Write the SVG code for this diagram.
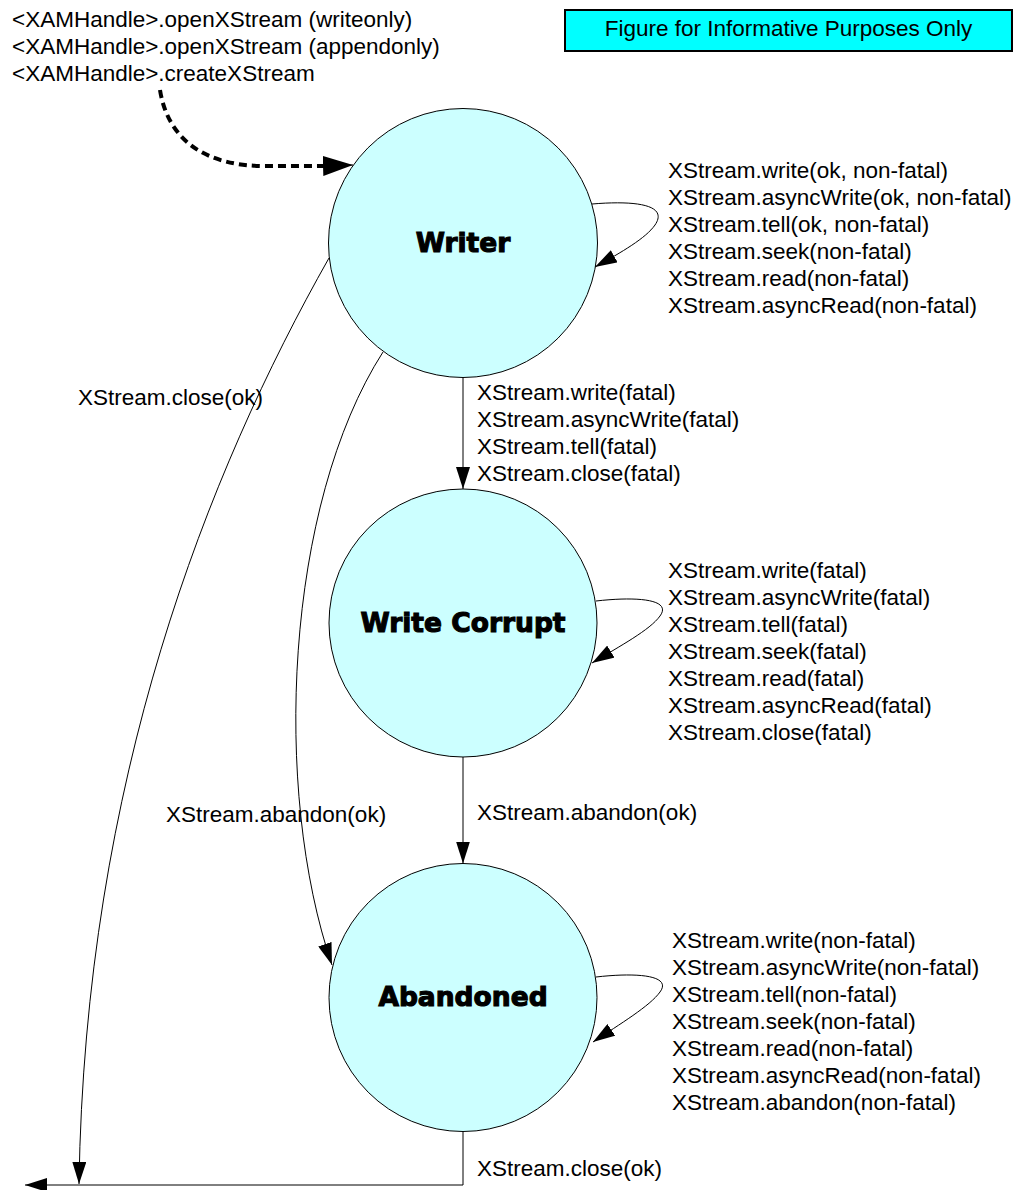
<svg xmlns="http://www.w3.org/2000/svg" width="1015" height="1190" viewBox="0 0 1015 1190">
  <style>
    .lbl { font-family: "Liberation Sans", Arial, sans-serif; font-size: 22.5px; fill: #000; }
    .node circle { fill: #CCFFFF; stroke: #000; stroke-width: 1; }
    .node text { font-family: "DejaVu Sans", "Liberation Sans", sans-serif; font-weight: bold; font-size: 26.5px; fill: #000; stroke: #000; stroke-width: 1.1; text-anchor: middle; }
    .edge { fill: none; stroke: #000; stroke-width: 1; }
    .dash { fill: none; stroke: #000; stroke-width: 4; stroke-dasharray: 8 5; }
  </style>
  <defs>
    <marker id="arr" markerUnits="userSpaceOnUse" markerWidth="22" markerHeight="14" refX="22" refY="7" orient="auto">
      <path d="M0,0 L22,7 L0,14 z" fill="#000"/>
    </marker>
    <marker id="arrBig" markerUnits="userSpaceOnUse" markerWidth="30" markerHeight="20" refX="30" refY="10" orient="auto">
      <path d="M0,0 L30,10 L0,20 z" fill="#000"/>
    </marker>
  </defs>

  <rect x="0" y="0" width="1015" height="1190" fill="#fff"/>

  <g id="notice">
    <rect x="565" y="10" width="447" height="41" fill="#00FFFF" stroke="#000" stroke-width="2"/>
    <text class="lbl" x="788.5" y="36" text-anchor="middle">Figure for Informative Purposes Only</text>
  </g>

  <g id="entry-label">
    <text class="lbl" x="12" y="27">&lt;XAMHandle&gt;.openXStream (writeonly)</text>
    <text class="lbl" x="12" y="54">&lt;XAMHandle&gt;.openXStream (appendonly)</text>
    <text class="lbl" x="12" y="81">&lt;XAMHandle&gt;.createXStream</text>
  </g>

  <g id="node-writer" class="node">
    <circle cx="463" cy="243" r="134.5"/>
    <text x="463" y="252">Writer</text>
  </g>
  <g id="node-write-corrupt" class="node">
    <circle cx="463" cy="623" r="134"/>
    <text x="463" y="632">Write Corrupt</text>
  </g>
  <g id="node-abandoned" class="node">
    <circle cx="463" cy="997.5" r="134"/>
    <text x="463" y="1006">Abandoned</text>
  </g>

  <g id="connectors">
    <path class="dash" d="M160,90 C168,140 205,166 265,166 L325,166" />
    <path class="edge" d="M323,166 L353,165" stroke="none" marker-end="url(#arrBig)"/>
    <!-- Writer self loop -->
    <path class="edge" d="M592,204 C640,200 668,206 655,225 C646,238 622,252 595,267" marker-end="url(#arr)"/>
    <!-- Write Corrupt self loop -->
    <path class="edge" d="M596,601 C640,596 672,600 660,616 C650,630 620,646 592,663" marker-end="url(#arr)"/>
    <!-- Abandoned self loop -->
    <path class="edge" d="M596,977 C640,972 672,976 660,992 C650,1006 620,1024 593,1042" marker-end="url(#arr)"/>
    <!-- Writer -> Write Corrupt -->
    <path class="edge" d="M463,377.5 L463,489" marker-end="url(#arr)"/>
    <!-- Write Corrupt -> Abandoned -->
    <path class="edge" d="M463,757 L463,863.5" marker-end="url(#arr)"/>
    <!-- Writer -> Abandoned (abandon ok) -->
    <path class="edge" d="M383,352 C285,505 272,790 332,965" marker-end="url(#arr)"/>
    <!-- Writer -> exit (close ok) -->
    <path class="edge" d="M329,258 C208,472 85,780 79,1184" marker-end="url(#arr)"/>
    <!-- Abandoned -> exit (close ok) -->
    <path class="edge" d="M463,1131.5 L463,1185 L25,1185" marker-end="url(#arr)"/>
  </g>

  <g id="edge-labels">
    <text class="lbl" x="668" y="178">XStream.write(ok, non-fatal)</text>
    <text class="lbl" x="668" y="205">XStream.asyncWrite(ok, non-fatal)</text>
    <text class="lbl" x="668" y="232">XStream.tell(ok, non-fatal)</text>
    <text class="lbl" x="668" y="259">XStream.seek(non-fatal)</text>
    <text class="lbl" x="668" y="286">XStream.read(non-fatal)</text>
    <text class="lbl" x="668" y="313">XStream.asyncRead(non-fatal)</text>

    <text class="lbl" x="477" y="400">XStream.write(fatal)</text>
    <text class="lbl" x="477" y="427">XStream.asyncWrite(fatal)</text>
    <text class="lbl" x="477" y="454">XStream.tell(fatal)</text>
    <text class="lbl" x="477" y="481">XStream.close(fatal)</text>

    <text class="lbl" x="78" y="405">XStream.close(ok)</text>

    <text class="lbl" x="668" y="578">XStream.write(fatal)</text>
    <text class="lbl" x="668" y="605">XStream.asyncWrite(fatal)</text>
    <text class="lbl" x="668" y="632">XStream.tell(fatal)</text>
    <text class="lbl" x="668" y="659">XStream.seek(fatal)</text>
    <text class="lbl" x="668" y="686">XStream.read(fatal)</text>
    <text class="lbl" x="668" y="713">XStream.asyncRead(fatal)</text>
    <text class="lbl" x="668" y="740">XStream.close(fatal)</text>

    <text class="lbl" x="477" y="820">XStream.abandon(ok)</text>
    <text class="lbl" x="166" y="822">XStream.abandon(ok)</text>

    <text class="lbl" x="672" y="948">XStream.write(non-fatal)</text>
    <text class="lbl" x="672" y="975">XStream.asyncWrite(non-fatal)</text>
    <text class="lbl" x="672" y="1002">XStream.tell(non-fatal)</text>
    <text class="lbl" x="672" y="1029">XStream.seek(non-fatal)</text>
    <text class="lbl" x="672" y="1056">XStream.read(non-fatal)</text>
    <text class="lbl" x="672" y="1083">XStream.asyncRead(non-fatal)</text>
    <text class="lbl" x="672" y="1110">XStream.abandon(non-fatal)</text>

    <text class="lbl" x="477" y="1176">XStream.close(ok)</text>
  </g>
</svg>
